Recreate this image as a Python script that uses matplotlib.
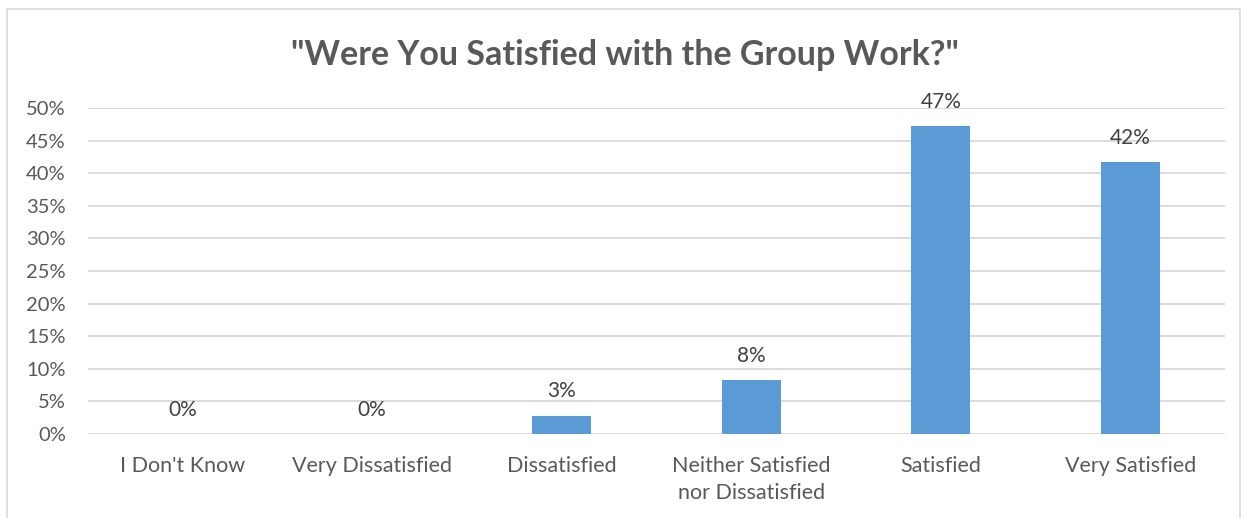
import matplotlib.pyplot as plt
import numpy as np
from matplotlib.patches import Rectangle

categories = ["I Don't Know", "Very Dissatisfied", "Dissatisfied",
              "Neither Satisfied\nnor Dissatisfied", "Satisfied", "Very Satisfied"]
values = [0.0, 0.0, 2.8, 8.3, 47.2, 41.7]
labels = ["0%", "0%", "3%", "8%", "47%", "42%"]
yticks = [0, 5, 10, 15, 20, 25, 30, 35, 40, 45, 50]

plt.rcParams['font.family'] = ['Lato', 'DejaVu Sans']
grey = '#595959'

fig = plt.figure(figsize=(12.5, 5.18), dpi=100)
ax = fig.add_axes([88 / 1250, 1 - 434 / 518, (1225 - 88) / 1250, 326 / 518])

x = np.arange(len(categories))
ax.bar(x, values, width=0.31, color='#5B9BD5', zorder=3)
for xi, v, lab in zip(x, values, labels):
    ax.text(xi, v + 2.2, lab, ha='center', va='bottom', fontsize=15, color='#404040')

ax.set_xlim(-0.5, len(categories) - 0.5)
ax.set_ylim(0, 50)
ax.set_yticks(yticks)
ax.set_yticklabels([f"{t}%" for t in yticks], fontsize=14.5, color=grey)
ax.set_xticks(x)
ax.set_xticklabels(categories, fontsize=15.5, color=grey, linespacing=1.45)
ax.tick_params(axis='both', length=0)
ax.tick_params(axis='y', pad=16)
ax.tick_params(axis='x', pad=16)
for s in ax.spines.values():
    s.set_visible(False)
ax.grid(axis='y', color='#D9D9D9', linewidth=1.3, zorder=0)
ax.set_axisbelow(True)

fig.text(0.5, 1 - 55 / 518, '"Were You Satisfied with the Group Work?"', ha='center', va='center',
         fontsize=24.5, fontweight='bold', color=grey)

fig.patches.append(Rectangle((7 / 1250, -0.05), (1240 - 7) / 1250, 1.05 - 9 / 518,
                             transform=fig.transFigure, fill=False, edgecolor='#D9D9D9', linewidth=1.2))

fig.savefig('out.png', dpi=100)
